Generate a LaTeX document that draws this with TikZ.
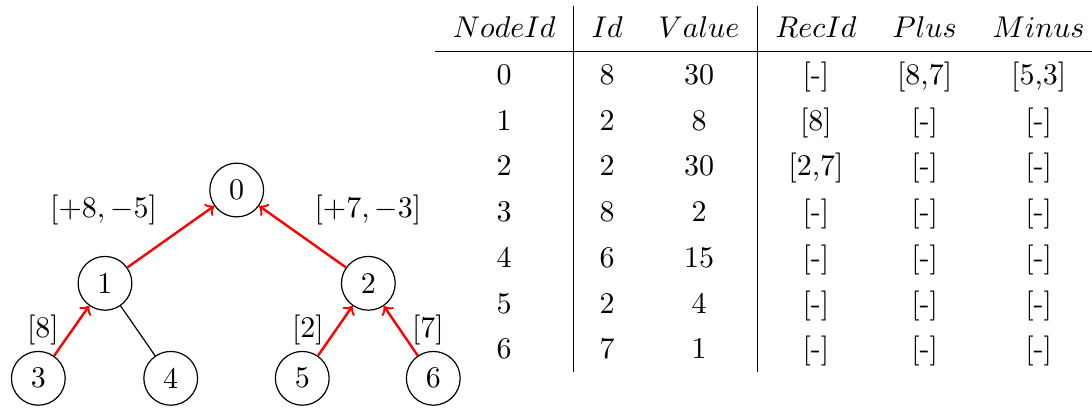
\documentclass[tikz,border=0pt]{standalone}
\usepackage{amsmath}
\usepackage{amssymb}
\usepackage{tikz}
\usepackage{xcolor}

\begin{document}
\begin{tikzpicture}[
    vertex/.style={draw, circle, minimum size=0.63cm, inner sep=0pt},
    up/.style={->, red, thick},
    tree/.style={draw, thin}
]
\useasboundingbox (0,0) rectangle (12.793,4.768);

\node[vertex] (n0) at (2.773, 2.542) {0};
\node[vertex] (n1) at (1.230, 1.449) {1};
\node[vertex] (n2) at (4.315, 1.449) {2};
\node[vertex] (n3) at (0.449, 0.336) {3};
\node[vertex] (n4) at (2.000, 0.336) {4};
\node[vertex] (n5) at (3.541, 0.336) {5};
\node[vertex] (n6) at (5.076, 0.336) {6};

\draw[up] (n1) -- (n0);
\draw[up] (n2) -- (n0);
\draw[up] (n3) -- (n1);
\draw[tree] (n1) -- (n4);
\draw[up] (n5) -- (n2);
\draw[up] (n6) -- (n2);

\node (l1) at (1.213, 2.308) {$[+8, -5]$};
\node (l2) at (4.311, 2.308) {$[+7, -3]$};
\node (l3) at (0.504, 0.902) {$[8]$};
\node (l5) at (3.608, 0.902) {$[2]$};
\node (l6) at (5.014, 0.902) {$[7]$};

\node[anchor=west, inner sep=0pt] (tab) at (5.088, 2.554) {%
    \renewcommand{\arraystretch}{1.27}%
    \begin{tabular}{c|cc|ccc}
        $NodeId$ & $Id$ & $Value$ & $RecId$ & $Plus$ & $Minus$ \\ \hline
        0 & 8 & 30 & [-] & [8,7] & [5,3] \\
        1 & 2 & 8 & [8] & [-] & [-] \\
        2 & 2 & 30 & [2,7] & [-] & [-] \\
        3 & 8 & 2 & [-] & [-] & [-] \\
        4 & 6 & 15 & [-] & [-] & [-] \\
        5 & 2 & 4 & [-] & [-] & [-] \\
        6 & 7 & 1 & [-] & [-] & [-]
    \end{tabular}};
\end{tikzpicture}
\end{document}
